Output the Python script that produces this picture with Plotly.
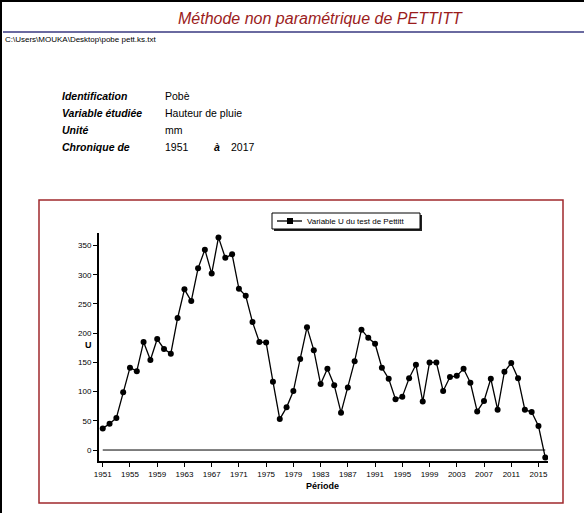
import plotly.graph_objects as go

# Pettitt U statistic per year (Pobè rainfall series 1951-2017)
years = list(range(1951, 2017))
u_values = [
    37, 45, 55, 99, 141, 135, 185, 154, 190, 173,
    165, 226, 275, 255, 311, 343, 302, 364, 329, 335,
    276, 264, 219, 185, 184, 117, 53, 73, 101, 156,
    210, 171, 113, 139, 111, 64, 107, 152, 206, 192,
    182, 141, 122, 87, 91, 123, 146, 83, 150, 150,
    101, 125, 127, 139, 115, 66, 84, 122, 69, 134,
    149, 123, 69, 65, 41, -13,
]
x_ticks = list(range(1951, 2016, 4))
y_ticks = list(range(0, 351, 50))

info_labels = ["Identification", "Variable étudiée", "Unité", "Chronique de"]
info_values = ["Pobè", "Hauteur de pluie", "mm", "1951"]
legend_label = "Variable U du test de Pettitt"

W, H = 584, 513
L, R, T, B = 99, 548, 233, 461  # plot area in pixels


def px(x):
    return (x - L) / (R - L)


def py(y):
    return (B - y) / (B - T)


fig = go.Figure()

# zero reference line
fig.add_trace(go.Scatter(
    x=[years[0], years[-1]], y=[0, 0], mode="lines",
    line=dict(color="black", width=1), showlegend=False, hoverinfo="skip"
))

fig.add_trace(go.Scatter(
    x=years, y=u_values, mode="lines+markers",
    name=legend_label, showlegend=False,
    line=dict(color="black", width=1.3),
    marker=dict(color="black", size=6, symbol="circle"),
))


def prect(x0, y0, x1, y1, **kw):
    return dict(type="rect", xref="paper", yref="paper",
                x0=px(x0), x1=px(x1), y0=py(y0), y1=py(y1), **kw)


def pline(x0, y0, x1, y1, **kw):
    return dict(type="line", xref="paper", yref="paper",
                x0=px(x0), x1=px(x1), y0=py(y0), y1=py(y1), **kw)


shapes = [
    # outer page frame
    pline(1, 1, 584, 1, line=dict(color="black", width=2)),
    pline(1, 0, 1, 513, line=dict(color="black", width=2)),
    # title underline
    pline(3, 32, 584, 32, line=dict(color="#6a6aa0", width=2)),
    # chart frame
    prect(39, 200, 563, 503, line=dict(color="#a0282d", width=1.5), layer="below"),
    # hand-made legend box with shadow
    prect(274, 215, 422, 231, line=dict(width=0), fillcolor="#222222"),
    prect(272, 213, 420, 229, line=dict(color="black", width=1), fillcolor="white"),
    pline(277, 221, 302, 221, line=dict(color="black", width=1.3)),
    prect(287, 218, 293, 224, line=dict(width=0), fillcolor="black"),
]

annotations = [
    dict(text="<i>Méthode non paramétrique de PETTITT</i>", x=px(320), y=py(18),
         font=dict(size=16, color="#9b1c1c")),
    dict(text="C:\\Users\\MOUKA\\Desktop\\pobe pett.ks.txt", x=px(3), y=py(39), xanchor="left",
         font=dict(size=8)),
    dict(text="<b>U</b>", x=px(88), y=py(345), font=dict(size=9)),
    dict(text="<b>Période</b>", x=px(322), y=py(486), font=dict(size=9)),
    dict(text="<b><i>à</i></b>", x=px(212), y=py(147), xanchor="left", font=dict(size=10.5)),
    dict(text="2017", x=px(229), y=py(147), xanchor="left", font=dict(size=10.5)),
    dict(text=legend_label, x=px(305), y=py(221), xanchor="left", font=dict(size=8)),
]
for i, (lab, val) in enumerate(zip(info_labels, info_values)):
    yy = py(96 + 17 * i)
    annotations.append(dict(text="<b><i>" + lab + "</i></b>", x=px(60), y=yy, xanchor="left",
                            font=dict(size=10.5)))
    annotations.append(dict(text=val, x=px(163), y=yy, xanchor="left", font=dict(size=10.5)))
for a in annotations:
    a.update(xref="paper", yref="paper", showarrow=False, yanchor="middle")
    a.setdefault("xanchor", "center")
    a["font"].setdefault("color", "black")
    a["font"].setdefault("family", "Liberation Sans")

fig.update_layout(
    width=W, height=H,
    margin=dict(l=L, r=W - R, t=T, b=H - B),
    paper_bgcolor="white", plot_bgcolor="white",
    font=dict(family="Liberation Sans", size=8, color="black"),
    shapes=shapes, annotations=annotations,
    showlegend=False,
)
fig.update_xaxes(
    range=[1950.45, 2016.4], tickvals=x_ticks, ticks="outside", ticklen=4,
    tickcolor="black", showgrid=False, zeroline=False, showline=True,
    linecolor="black", linewidth=2, tickfont=dict(size=8),
)
fig.update_yaxes(
    range=[-18.8, 371.5], tickvals=y_ticks, ticks="outside", ticklen=4,
    tickcolor="black", showgrid=False, zeroline=False, showline=True,
    linecolor="black", linewidth=2, tickfont=dict(size=8),
)

# remove the default page margin so the figure sits at the window origin
fig.write_html("out.html", config={"displayModeBar": False},
               post_script="document.body.style.margin='0';")
